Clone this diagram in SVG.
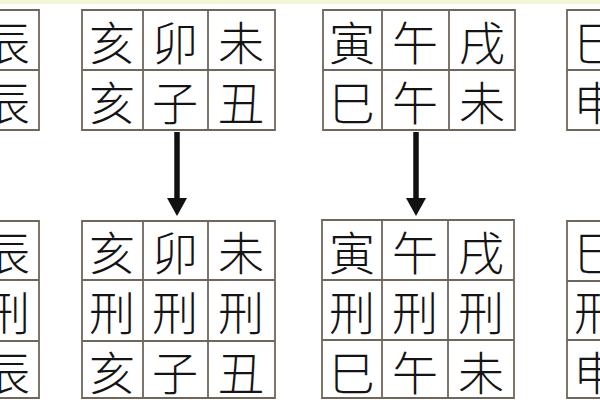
<svg xmlns="http://www.w3.org/2000/svg" width="600" height="400" viewBox="0 0 600 400">
<defs>
<style>
.g{fill:none;stroke:#6f675b;stroke-width:1.8}
.t{font-family:"Noto Sans CJK SC","Noto Sans CJK JP",sans-serif;font-size:46px;font-weight:300;fill:#141414;text-anchor:middle;dominant-baseline:central}
.a{stroke:#111;stroke-width:5.5}
</style>
</defs>
<rect width="600" height="400" fill="#ffffff"/>
<rect width="600" height="4" fill="#f2f6d6"/>
<g id="grid-top-1">
<path class="g" d="M-26 10H39V130H-26M-26 70H39"/>
<text class="t" x="7" y="40">辰</text>
<text class="t" x="7" y="100">辰</text>
</g>
<g id="grid-top-2">
<path class="g" d="M82 10H275V130H82Z M82 70H275 M143 10V130 M208 10V130"/>
<text class="t" x="112" y="40">亥</text>
<text class="t" x="175" y="40">卯</text>
<text class="t" x="241" y="40">未</text>
<text class="t" x="112" y="100">亥</text>
<text class="t" x="175" y="100">子</text>
<text class="t" x="241" y="100">丑</text>
</g>
<g id="grid-top-3">
<path class="g" d="M323 10H515V130H323Z M323 70H515 M382 10V130 M449 10V130"/>
<text class="t" x="352" y="40">寅</text>
<text class="t" x="415" y="40">午</text>
<text class="t" x="482" y="40">戌</text>
<text class="t" x="352" y="100">巳</text>
<text class="t" x="415" y="100">午</text>
<text class="t" x="482" y="100">未</text>
</g>
<g id="grid-top-4">
<path class="g" d="M620 10H567V130H620M567 70H620"/>
<text class="t" x="597" y="40">巳</text>
<text class="t" x="597" y="100">申</text>
</g>
<g id="connectors">
<line class="a" x1="177" y1="132" x2="177" y2="200"/>
<polygon points="167,198 187,198 177,216" fill="#111"/>
<line class="a" x1="416" y1="132" x2="416" y2="200"/>
<polygon points="406,198 426,198 416,216" fill="#111"/>
</g>
<g id="grid-bottom-1">
<path class="g" d="M-26 221H39V398H-26M-26 280H39M-26 341H39"/>
<text class="t" x="7" y="250">辰</text>
<text class="t" x="7" y="310">刑</text>
<text class="t" x="7" y="370">辰</text>
</g>
<g id="grid-bottom-2">
<path class="g" d="M82 221H275V398H82Z M82 280H275 M82 341H275 M143 221V398 M208 221V398"/>
<text class="t" x="112" y="250">亥</text>
<text class="t" x="175" y="250">卯</text>
<text class="t" x="241" y="250">未</text>
<text class="t" x="112" y="310">刑</text>
<text class="t" x="175" y="310">刑</text>
<text class="t" x="241" y="310">刑</text>
<text class="t" x="112" y="370">亥</text>
<text class="t" x="175" y="370">子</text>
<text class="t" x="241" y="370">丑</text>
</g>
<g id="grid-bottom-3">
<path class="g" d="M322 220H514V398H322Z M322 280H514 M322 340H514 M382 220V398 M448 220V398"/>
<text class="t" x="352" y="250">寅</text>
<text class="t" x="415" y="250">午</text>
<text class="t" x="481" y="250">戌</text>
<text class="t" x="352" y="310">刑</text>
<text class="t" x="415" y="310">刑</text>
<text class="t" x="481" y="310">刑</text>
<text class="t" x="352" y="370">巳</text>
<text class="t" x="415" y="370">午</text>
<text class="t" x="481" y="370">未</text>
</g>
<g id="grid-bottom-4">
<path class="g" d="M620 221H567V398H620M567 281H620M567 340H620"/>
<text class="t" x="597" y="250">巳</text>
<text class="t" x="597" y="310">刑</text>
<text class="t" x="597" y="370">申</text>
</g>
</svg>
